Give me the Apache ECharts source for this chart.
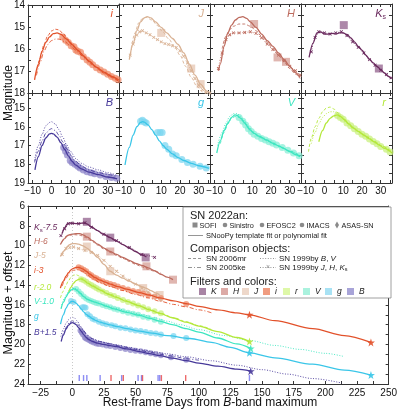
<!DOCTYPE html>
<html><head><meta charset="utf-8">
<script src="https://cdn.jsdelivr.net/npm/echarts@6/dist/echarts.min.js"></script>
<style>html,body{margin:0;padding:0;background:#fff}#c{width:400px;height:410px}</style>
</head><body><div id="c"></div>
<script>
// ---------- tick labels ----------
const topXTicks = [-10,-5,0,5,10,15,20,25,30,35];
const topXLabels = [-10,0,10,20,30];
const row1YTicks = [14,14.5,15,15.5,16,16.5,17,17.5,18];
const row1YLabels = [14,15,16,17,18];
const row2YTicks = [14.5,15,15.5,16,16.5,17,17.5,18,18.5,19];
const row2YLabels = [15,16,17,18,19];
const botXTicks = [-25,-12.5,0,12.5,25,37.5,50,62.5,75,87.5,100,112.5,125,137.5,150,162.5,175,187.5,200,212.5,225,237.5,250];
const botXLabels = [-25,0,25,50,75,100,125,150,175,200,225,250];
const botYTicks = [6,7,8,9,10,11,12,13,14,15,16,17,18,19,20,21,22,23,24];
const botYLabels = [6,8,10,12,14,16,18,20,22,24];

// ---------- top panels: early light curves (magnitudes) ----------
const iFit = [[-9,17.4],[-7,16.7],[-5,16.1],[-3,15.7],[-1,15.45],[1,15.3],[3,15.27],[5,15.33],[8,15.55],[11,15.8],[14,16.05],[17,16.3],[20,16.55],[24,16.83],[28,17.05],[32,17.25],[36,17.42]];
const iCmpA = [[-8,17.1],[-6,16.4],[-4,15.8],[-2,15.4],[0,15.18],[2,15.1],[4,15.13],[6,15.28],[9,15.58],[12,15.9],[15,16.15],[19,16.5],[23,16.8],[28,17.1],[32,17.3],[36,17.48]];
const iCmpB = [[-8,17.2],[-6,16.6],[-4,16.1],[-2,15.8],[0,15.62],[2,15.55],[4,15.55],[7,15.66],[10,15.85],[13,16.05],[17,16.35],[21,16.65],[25,16.9],[30,17.15],[36,17.5]];
const iPts = [[6,15.45],[7.5,15.6],[9,15.7],[10.5,15.85],[12,15.9],[13,16.05],[14,16.1],[15.5,16.15],[17,16.35],[19,16.5],[20.5,16.6],[22,16.72],[24,16.85],[26,16.95],[28,17.05],[30,17.15],[32,17.25],[34,17.33],[35.5,17.4]];

const jFit = [[-7,16.5],[-5,15.8],[-3,15.2],[-1,14.8],[1,14.62],[2.5,14.57],[4.5,14.62],[7,14.8],[10,15.05],[13,15.3],[16,15.55],[19,15.82],[22,16.2],[25,16.7],[28,17.2],[31,17.6],[34,17.9],[36,18.0]];
const jCmpX = [[-6.5,16.3],[-5,15.8],[-3,15.4],[-1.5,15.25],[0,15.2],[2,15.3],[4,15.38],[6,15.5],[8,15.6],[10,15.7],[12,15.78],[14,15.82],[16,15.88],[18,15.95],[20,16.1],[22,16.35],[24,16.65],[26,17.0],[28,17.35],[30,17.65],[32,17.85],[34,17.97],[36,18.0]];
const jCmpD = [[-6,16.0],[-4,15.3],[-2,14.85],[0,14.65],[2,14.6],[5,14.72],[8,14.97],[11,15.27],[14,15.57],[17,15.9],[20,16.3],[23,16.8],[26,17.3],[29,17.7],[32,17.95],[36,18.05]];
const jPts = [[10,15.3],[26,16.9],[31,17.6]];

const hFit = [[-8,17.0],[-7,16.7],[-5,15.9],[-3,15.3],[-1,14.95],[1,14.72],[3,14.6],[5,14.57],[7,14.65],[9,14.8],[12,15.05],[15,15.35],[18,15.65],[21,15.9],[24,16.2],[27,16.5],[30,16.8],[33,17.08],[35.5,17.3]];
const hCmpX = [[-8,16.9],[-6,16.2],[-4,15.6],[-2,15.38],[0,15.3],[3,15.3],[6,15.28],[9,15.25],[12,15.32],[15,15.52],[18,15.8],[21,16.05],[24,16.3],[27,16.55],[30,16.8],[33,17.0],[35.5,17.2]];
const hCmpD = [[-6,16.0],[-4,15.45],[-2,15.15],[0,15.0],[3,14.9],[6,14.9],[9,15.0],[12,15.2],[15,15.45],[18,15.72],[21,16.0],[24,16.3],[27,16.6],[30,16.9],[33,17.15],[35.5,17.35]];
const hPts = [[11,14.9],[23.5,16.4],[28,16.6]];

const kFit = [[-8.2,16.4],[-6,15.75],[-4,15.3],[-2,15.25],[0,15.35],[2,15.35],[4,15.32],[6,15.35],[8,15.3],[10,15.3],[12,15.37],[14,15.52],[16,15.7],[18,15.9],[20,16.07],[22,16.3],[24,16.48],[26,16.65],[28,16.8],[30,16.95],[32,17.1],[34,17.25],[35.5,17.35]];
const kCmpX = [[-7,16.15],[-5,15.5],[-3,15.25],[0,15.3],[3,15.35],[6,15.3],[9,15.25],[12,15.42],[15,15.7],[18,15.95],[21,16.2],[24,16.5],[27,16.75],[30,16.97],[33,17.17],[35.5,17.32]];
const kPts = [[10.3,14.95],[29,16.9]];

const bFit = [[-8.8,18.3],[-7,17.6],[-5,17.0],[-3,16.6],[-1,16.38],[0,16.35],[1,16.38],[3,16.55],[5,16.85],[7,17.2],[9,17.55],[11,17.85],[13,18.05],[16,18.25],[20,18.42],[25,18.55],[30,18.68],[35,18.78]];
const bCmpDot = [[-9,17.8],[-7,17.0],[-5,16.4],[-3,15.95],[-1,15.77],[0,15.73],[2,15.85],[4,16.15],[6,16.55],[8,16.95],[10,17.3],[13,17.7],[16,17.95],[20,18.15],[25,18.3],[30,18.45],[35,18.6]];
const bCmpDash = [[-9,17.9],[-7,17.3],[-5,16.75],[-3,16.35],[-1,16.15],[0,16.1],[2,16.2],[4,16.45],[6,16.8],[8,17.15],[10,17.5],[13,17.85],[16,18.1],[20,18.3],[25,18.45],[30,18.55],[35,18.65]];
const bPts = [[6.5,17.1],[7.5,17.3],[8.5,17.5],[10,17.8],[11,17.9],[12.5,18.0],[14,18.1],[15.2,18.2],[17,18.3],[19,18.4],[21,18.45],[23,18.5],[26,18.57],[29,18.65],[32,18.7],[34.8,18.75]];

const gFit = [[-9.3,18.04],[-7,17.1],[-5,16.45],[-3,16.0],[-1,15.77],[0,15.73],[1,15.75],[3,15.9],[5,16.15],[7,16.45],[9,16.75],[11,17.0],[13,17.2],[16,17.45],[19,17.65],[22,17.8],[26,17.95],[30,18.08],[35.5,18.22]];
const gPts = [[-1,15.7],[0,15.65],[1,15.75],[2,15.8],[8,16.3],[9.4,16.3],[10.5,16.3],[12,17.0],[14,17.2],[16,17.45],[18,17.55],[21,17.75],[24,17.9],[27,18.0],[30.7,18.1],[34,18.2]];

const vFit = [[-8.9,17.4],[-7,16.75],[-5,16.2],[-3,15.8],[-1,15.5],[0.8,15.37],[2,15.4],[4,15.55],[6,15.8],[8.8,16.17],[11,16.35],[14,16.52],[17.7,16.7],[21,16.88],[24,17.02],[26.6,17.15],[30,17.32],[33,17.48],[35.5,17.6]];
const vCmpDot = [[-8.5,17.0],[-6,16.3],[-4,15.8],[-2,15.45],[0,15.3],[2,15.3],[4,15.45],[6,15.7],[8,16.0],[10,16.25],[13,16.5],[16,16.65],[20,16.85],[25,17.05],[30,17.3],[35.5,17.55]];
const vCmpDash = [[-7,16.9],[-5,16.3],[-3,15.85],[-1,15.55],[1,15.45],[3,15.5],[5,15.7],[8,16.05],[11,16.35],[14,16.55],[18,16.75],[22,16.95],[26,17.12],[30,17.3],[35.5,17.55]];
const vPts = [[3,15.5],[5,15.7],[6.5,15.9],[8,16.1],[9.5,16.25],[11,16.4],[13,16.5],[15,16.62],[17,16.7],[19,16.8],[21,16.88],[23,16.97],[26,17.1],[29,17.25],[32,17.4],[35,17.55]];

const rFit = [[-3,16.8],[-1,16.2],[1,15.8],[3,15.55],[5,15.42],[6.8,15.37],[8.5,15.45],[10.5,15.6],[13,15.85],[15.7,16.08],[18,16.25],[21,16.45],[24,16.65],[26.4,16.8],[29,16.97],[32,17.15],[36,17.4]];
const rCmpDash = [[-8.5,17.33],[-7,16.6],[-5,16.0],[-3,15.55],[-1,15.2],[1,15.0],[3,14.95],[5,15.05],[7,15.25],[9,15.5],[12,15.8],[15,16.05],[18,16.25],[22,16.5],[26,16.75],[30,17.0],[36,17.35]];
const rCmpDot = [[-7,16.9],[-5,16.3],[-3,15.85],[-1,15.5],[1,15.3],[3,15.2],[5,15.2],[7,15.3],[9,15.5],[12,15.8],[15,16.05],[19,16.3],[23,16.55],[27,16.8],[31,17.05],[36,17.35]];
const rPts = [[7,15.4],[8.5,15.5],[10,15.6],[12,15.8],[14,15.95],[16,16.1],[18,16.25],[20,16.4],[22,16.5],[24,16.65],[26,16.78],[28,16.9],[30,17.05],[33,17.2],[35,17.35]];

// ---------- bottom panel: full light curves (magnitude + offset) ----------
const kLate = [[-8,8.8],[-6,8.2],[-4,7.8],[-2,7.7],[0,7.75],[3,7.78],[6,7.75],[9,7.72],[11.5,7.8],[15,8.1],[20,8.5],[25,8.9],[30,9.2],[35,9.55],[40,9.9],[45,10.25],[50,10.6],[55,10.95],[58.6,11.15]];
const kLateCmp = [[-9,9.0],[-6,8.3],[-3,7.8],[0,7.75],[5,7.8],[10,7.7],[15,8.15],[25,8.85],[35,9.5],[45,10.2],[55,10.9],[65,11.2]];
const kLatePts = [[11.5,7.6],[30,9.2],[58,11.2]];

const hLate = [[-9.4,9.9],[-6,9.3],[-4,9.0],[-2,8.9],[0,8.85],[3,8.8],[6,8.8],[9,8.95],[12,9.15],[16,9.5],[20,9.85],[25,10.25],[30,10.6],[35,10.9],[40,11.2],[45,11.5],[50,11.8],[55,12.0],[60,12.25],[65,12.55],[70,12.9],[75,13.2],[79.6,13.45]];
const hLateCmp = [[-8,9.6],[-5,9.1],[-2,8.95],[2,8.9],[6,8.95],[10,9.15],[15,9.5],[20,9.95],[25,10.35],[30,10.7],[35,11.0],[40,11.3],[45,11.6],[50,11.9],[55,12.15],[60,12.4],[65,12.6],[70,12.8]];
const hLatePts = [[11.5,9.1],[30,10.6],[58.6,12.1],[79.6,13.45]];

const jLate = [[-9.4,11.1],[-6,10.5],[-4,10.1],[-2,9.9],[0,9.8],[2.4,9.8],[5,9.85],[8,10.0],[11.5,10.25],[15,10.6],[20,11.2],[25,11.9],[30,12.6],[35,13.0],[40,13.3],[45,13.6],[50,13.9],[55,14.15],[58,14.3],[62,14.55],[66,14.8],[69,15.0]];
const jLateCmp = [[-8,10.9],[-5,10.3],[-2,10.2],[1,10.15],[5,10.3],[10,10.5],[15,10.7],[20,11.0],[25,11.5],[30,12.1],[35,12.6],[40,13.1],[45,13.5],[50,13.9],[55,14.3],[60,14.7],[65,15.1],[70,15.5]];
const jLatePts = [[11.5,10.1],[30,12.6],[56,14.3],[69,15.0]];

const iLate = [[-9.4,14.3],[-7,13.6],[-5,13.1],[-3,12.75],[-1,12.45],[1,12.3],[3,12.22],[5,12.2],[8,12.35],[11,12.6],[14,12.9],[18,13.25],[22,13.5],[26,13.7],[30,13.9],[36,14.15],[43,14.4],[53,14.75],[61,15.0],[69,15.3],[80,15.6],[91,15.9],[100,16.15],[115,16.5],[130,16.8],[140,17.0],[160,17.6],[190,18.4],[215,19.1],[236,19.8]];
const iLateCmp = [[-8,14.1],[-5,13.3],[-2,12.75],[1,12.5],[4,12.45],[8,12.6],[12,12.95],[16,13.35],[22,13.75],[30,14.15],[40,14.55],[50,14.95],[60,15.3],[70,15.65],[80,15.95],[90,16.2],[100,16.5],[110,16.8]];
const iLatePts = [[5,12.2],[7,12.3],[9,12.45],[11,12.6],[13,12.85],[15,13.0],[17,13.2],[19,13.3],[21,13.45],[24,13.6],[27,13.75],[30,13.9],[33,14.0],[36,14.15],[40,14.3],[44,14.45],[48,14.6],[52,14.7],[56,14.85],[60,15.0],[65,15.15],[70,15.3],[90,15.9]];
const iLateStars = [[140,17.0],[236,19.8]];

const rLate = [[-3,14.8],[-1,14.2],[1,13.8],[3,13.55],[5,13.42],[6.8,13.37],[9,13.5],[12,13.8],[16,14.1],[22,14.5],[28,14.9],[35,15.25],[43,15.65],[53,16.1],[61,16.5],[69,16.85],[79,17.3],[90,17.75],[100,18.15],[115,18.7],[130,19.3],[140,19.7]];
const rLateCmp = [[-9.4,15.3],[-7,14.6],[-5,14.0],[-3,13.55],[-1,13.2],[1,13.0],[3,12.95],[5,13.05],[8,13.35],[12,13.75],[16,14.05],[22,14.45],[30,14.95],[40,15.45],[50,15.95],[60,16.4],[70,16.85],[80,17.3],[90,17.7],[100,18.1],[110,18.5]];
const rLatePts = [[7,13.4],[9,13.5],[11,13.65],[13,13.85],[15,14.0],[17,14.15],[19,14.3],[21,14.45],[24,14.65],[27,14.8],[30,15.0],[33,15.1],[36,15.3],[40,15.5],[44,15.7],[48,15.85],[52,16.05],[56,16.25],[60,16.45],[65,16.65],[70,16.85]];
const rLateStars = [[140,19.7]];

const vLate = [[-8.9,16.4],[-7,15.75],[-5,15.2],[-3,14.8],[-1,14.5],[0.8,14.37],[2,14.4],[4,14.55],[6,14.8],[9,15.17],[12,15.45],[15,15.6],[18,15.72],[22,15.9],[27,16.15],[33,16.4],[43,16.75],[53,17.05],[61,17.35],[69,17.65],[79,18.0],[90,18.4],[100,18.75],[115,19.35],[130,19.95],[141,20.4]];
const vLateCmp = [[-8.5,16.0],[-6,15.3],[-4,14.8],[-2,14.45],[0,14.3],[2,14.3],[4,14.45],[6,14.7],[9,15.1],[13,15.5],[18,15.75],[25,16.0],[35,16.35],[45,16.7],[55,17.0],[65,17.3],[75,17.65],[85,18.0],[100,18.5],[120,19.1],[140,19.6],[160,20.1],[180,20.5],[200,20.9],[214,21.2]];
const vLatePts = [[3,14.4],[5,14.65],[7,14.9],[9,15.15],[11,15.35],[13,15.5],[15,15.6],[17,15.7],[19,15.8],[21,15.87],[24,16.0],[27,16.15],[30,16.25],[33,16.4],[36,16.5],[40,16.65],[44,16.8],[48,16.9],[52,17.0],[56,17.2],[60,17.3],[65,17.5],[70,17.7]];
const vLateStars = [[141,20.4]];

const gLate = [[-9.3,17.95],[-7,17.0],[-5,16.35],[-3,15.9],[-1,15.68],[0,15.65],[1,15.67],[3,15.82],[5,16.08],[7,16.4],[9,16.7],[11,16.95],[13,17.15],[16,17.4],[19,17.6],[22,17.75],[26,17.9],[30,18.03],[36,18.2],[43,18.4],[53,18.65],[63,18.85],[75,19.1],[93,19.4],[110,19.8],[125,20.3],[140,20.85],[160,21.35],[190,22.0],[215,22.6],[236,23.1]];
const gLatePts = [[-1,15.6],[1,15.7],[8,16.25],[9.4,16.25],[10.5,16.3],[12,16.95],[14,17.15],[16,17.4],[18,17.5],[21,17.7],[24,17.85],[27,17.95],[31,18.05],[34,18.15],[38,18.3],[42,18.35],[46,18.5],[50,18.6],[54,18.65],[58,18.75],[62,18.85],[66,18.9],[70,19.0],[80,19.15],[90,19.35]];
const gLateStars = [[140,20.85],[236,23.1]];

const bLate = [[-8.8,19.7],[-7,19.05],[-5,18.45],[-3,18.05],[-1,17.83],[0,17.8],[1,17.83],[3,18.0],[5,18.3],[7,18.65],[9,19.0],[11,19.3],[13,19.5],[16,19.7],[20,19.87],[25,20.0],[30,20.12],[35,20.22],[43,20.45],[53,20.72],[61,20.93],[69,21.13],[79,21.38],[90,21.63],[100,21.88],[115,22.2],[130,22.5],[141,22.7]];
const bLateDot = [[-9,19.2],[-7,18.4],[-5,17.9],[-3,17.5],[-1,17.3],[0,17.25],[2,17.35],[4,17.65],[6,18.05],[8,18.45],[10,18.8],[13,19.2],[16,19.45],[20,19.65],[25,19.8],[35,20.05],[45,20.3],[55,20.55],[65,20.75],[75,20.95],[90,21.25],[110,21.65],[130,22.1],[150,22.55],[170,23.0],[190,23.45],[213,23.9]];
const bLateDash = [[-8,19.3],[-5,18.3],[-2,17.75],[0,17.6],[2,17.7],[5,18.05],[8,18.5],[12,19.05],[16,19.4],[22,19.7],[30,19.95],[40,20.25],[50,20.5],[60,20.75],[70,21.0],[80,21.2],[90,21.45],[100,21.6]];
const bLatePts = [[6.5,18.6],[7.5,18.8],[8.5,19.0],[10,19.3],[11,19.4],[12.5,19.5],[14,19.6],[15.2,19.7],[17,19.8],[19,19.9],[21,19.95],[24,20.0],[27,20.1],[30,20.15],[34,20.25],[38,20.35],[42,20.45],[46,20.55],[50,20.65],[54,20.7],[58,20.8],[62,20.9],[66,21.0],[70,21.1],[78,21.3],[90,21.55]];
const bLateStars = [[141,22.7]];

// spectral epochs
const specBlue = [5.5,8.9,11.5,22,39,52,54.7,67.8,69.1,140];
const specRed = [30.6,40.3,55.5,70.4,89.6];

// ---------- styling ----------
const COL = {K:'#6a2a5e',H:'#bd6b5e',J:'#d9b294',i:'#e2512a',r:'#b4e83a',V:'#3ce6c0',g:'#3ac6e8',B:'#47399a'};
const PCOL = {K:'#8e5a88',H:'#d49a92',J:'#e4c4ae',i:'#ee8664',r:'#c8f07a',V:'#84eed6',g:'#7ad6f0',B:'#8a82c8'};
const SQ = {K:'#a884a4',H:'#dcaaa6',J:'#eed8ca',i:'#f09c80',r:'#def8a8',V:'#aaf2de',g:'#a8e2f4',B:'#a8a4d8'};
const FONT = 'Liberation Sans, Arial, sans-serif';
const DASH = [3,2], DASHDOT = [4,2,1,2], DOT = [1,1.6];
const XSYM = 'path://M4,0h2v10h-2z M0,4h10v2h-10z';
const STAR = 'path://M5,0L6.2,3.6L10,3.6L7,5.9L8.1,9.6L5,7.3L1.9,9.6L3,5.9L0,3.6L3.8,3.6Z';
const minus = v => String(v).replace('-', '\u2212');

const grids = [], xAxes = [], yAxes = [], series = [];
const lefts = [28,119,210,301];
function addGrid(g, x, y) {
  const gi = grids.length;
  grids.push({left:g.left, top:g.top, width:g.width, height:g.height, containLabel:false});
  const lineStyle = {color:'#333', width:1};
  const base = (o) => Object.assign({gridIndex:gi, type:'value', splitLine:{show:false}}, o);
  xAxes.push(base({min:x.min, max:x.max, position:'bottom',
    axisLine:{show:true, onZero:false, lineStyle},
    axisTick:{show:true, inside:true, length:3, customValues:x.ticks, lineStyle},
    axisLabel:{show:x.show, customValues:x.labels, formatter:minus, fontSize:10, margin:x.margin||3, color:'#111', fontFamily:FONT}}));
  xAxes.push(base({min:x.min, max:x.max, position:'top',
    axisLine:{show:true, onZero:false, lineStyle},
    axisTick:{show:true, inside:true, length:3, customValues:x.ticks, lineStyle},
    axisLabel:{show:false}}));
  yAxes.push(base({min:y.min, max:y.max, inverse:true, position:'left',
    axisLine:{show:true, onZero:false, lineStyle},
    axisTick:{show:true, inside:true, length:3, customValues:y.ticks, lineStyle},
    axisLabel:{show:y.show, customValues:y.labels, fontSize:10, margin:3, color:'#111', fontFamily:FONT}}));
  yAxes.push(base({min:y.min, max:y.max, inverse:true, position:'right',
    axisLine:{show:true, onZero:false, lineStyle},
    axisTick:{show:true, inside:true, length:3, customValues:y.ticks, lineStyle},
    axisLabel:{show:false}}));
  return gi;
}
function L(gi, data, color, type, width, z) {
  return {type:'line', xAxisIndex:gi*2, yAxisIndex:gi*2, data, showSymbol:false, smooth:0.3, smoothMonotone:'x',
    lineStyle:{color, width:width||1, type:type||'solid'}, z:z||3, silent:true, animation:false};
}
function LX(gi, data, color) {
  return {type:'line', xAxisIndex:gi*2, yAxisIndex:gi*2, data, showSymbol:true, symbol:XSYM, symbolSize:4, symbolRotate:45,
    smooth:0.3, smoothMonotone:'x', itemStyle:{color}, lineStyle:{color, width:0.9, type:DOT}, z:3, silent:true, animation:false};
}
function P(gi, data, color, symbol, size) {
  return {type:'scatter', xAxisIndex:gi*2, yAxisIndex:gi*2, data, symbol, symbolSize:size,
    itemStyle:{color, opacity:0.72}, z:2, silent:true, animation:false};
}

// ---------- top small panels ----------
const panels = [
  {b:'i', r:0, c:0, fit:iFit, cmp:[[iCmpA,DASH],[iCmpB,DASHDOT]], pts:iPts, sym:'circle'},
  {b:'J', r:0, c:1, fit:jFit, cmp:[[jCmpD,DASH]], x:jCmpX, pts:jPts, sym:'rect'},
  {b:'H', r:0, c:2, fit:hFit, cmp:[[hCmpD,DASH]], x:hCmpX, pts:hPts, sym:'rect'},
  {b:'K', r:0, c:3, fit:kFit, cmp:[], x:kCmpX, pts:kPts, sym:'rect'},
  {b:'B', r:1, c:0, fit:bFit, cmp:[[bCmpDot,DOT],[bCmpDash,DASHDOT]], pts:bPts, sym:'circle'},
  {b:'g', r:1, c:1, fit:gFit, cmp:[], pts:gPts, sym:'circle'},
  {b:'V', r:1, c:2, fit:vFit, cmp:[[vCmpDot,DOT],[vCmpDash,DASH]], pts:vPts, sym:'circle'},
  {b:'r', r:1, c:3, fit:rFit, cmp:[[rCmpDash,DASH],[rCmpDot,DOT]], pts:rPts, sym:'circle'}
];
const graphics = [];
panels.forEach(p => {
  const top = p.r === 0 ? 4 : 93, height = p.r === 0 ? 89 : 90;
  const gi = addGrid({left:lefts[p.c], top, width:91, height},
    {min:-12.5, max:36, ticks:topXTicks, labels:topXLabels, show:p.r === 1, margin:3},
    p.r === 0 ? {min:14, max:18, ticks:row1YTicks, labels:row1YLabels, show:p.c === 0}
              : {min:14.2, max:19, ticks:row2YTicks, labels:row2YLabels, show:p.c === 0});
  series.push(P(gi, p.pts, PCOL[p.b], p.sym, p.sym === 'rect' ? 8 : 7));
  p.cmp.forEach(c => series.push(L(gi, c[0], COL[p.b], c[1], 0.9)));
  if (p.x) series.push(LX(gi, p.x, COL[p.b]));
  series.push(L(gi, p.fit, COL[p.b], 'solid', 1.3, 4));
  const lx = lefts[p.c] + 91 - 6, ly = top + 10;
  graphics.push({type:'text', x:lx, y:ly, style:{text: p.b === 'K' ? '{a|K}{s|s}' : '{a|' + p.b + '}',
    align:'right', verticalAlign:'middle',
    rich:{a:{fontSize:11, fontStyle:'italic', fontFamily:FONT, fill:COL[p.b]}, s:{fontSize:7, fontFamily:FONT, fill:COL[p.b], padding:[6,0,0,0]}}}});
});

// ---------- bottom big panel ----------
const gb = addGrid({left:28, top:206, width:364, height:178},
  {min:-35, max:250, ticks:botXTicks, labels:botXLabels, show:true, margin:4},
  {min:6, max:24, ticks:botYTicks, labels:botYLabels, show:true});
const late = [
  {b:'K', fit:kLate, x:kLateCmp, pts:kLatePts, sym:'rect'},
  {b:'H', fit:hLate, cmp:[[hLateCmp,DASH]], pts:hLatePts, sym:'rect'},
  {b:'J', fit:jLate, x:jLateCmp, pts:jLatePts, sym:'rect'},
  {b:'i', fit:iLate, cmp:[[iLateCmp,DASHDOT]], pts:iLatePts, stars:iLateStars, sym:'circle'},
  {b:'r', fit:rLate, cmp:[[rLateCmp,DASH]], pts:rLatePts, stars:rLateStars, sym:'circle'},
  {b:'V', fit:vLate, cmp:[[vLateCmp,DOT]], pts:vLatePts, stars:vLateStars, sym:'circle'},
  {b:'g', fit:gLate, cmp:[], pts:gLatePts, stars:gLateStars, sym:'circle'},
  {b:'B', fit:bLate, cmp:[[bLateDot,DOT],[bLateDash,DASHDOT]], pts:bLatePts, stars:bLateStars, sym:'circle'}
];
late.forEach(p => {
  series.push(P(gb, p.pts, PCOL[p.b], p.sym, p.sym === 'rect' ? 8 : 6));
  (p.cmp || []).forEach(c => series.push(L(gb, c[0], COL[p.b], c[1], 0.9)));
  if (p.x) series.push(LX(gb, p.x, COL[p.b]));
  series.push(L(gb, p.fit, COL[p.b], 'solid', 1.3, 4));
  if (p.stars) series.push(Object.assign(P(gb, p.stars, COL[p.b], STAR, 8), {z:5, itemStyle:{color:COL[p.b], opacity:0.9}}));
});
// day-0 reference and spectral epoch ticks
series.push({type:'scatter', xAxisIndex:gb*2, yAxisIndex:gb*2, data:specBlue.map(d => [d, 23.4]), symbol:'rect', symbolSize:[1.4,6],
  itemStyle:{color:'#6f6ff0'}, z:3, silent:true, animation:false,
  markLine:{silent:true, symbol:'none', label:{show:false}, lineStyle:{type:[1,2], color:'#bbb', width:0.8}, data:[{xAxis:0}]}});
series.push({type:'scatter', xAxisIndex:gb*2, yAxisIndex:gb*2, data:specRed.map(d => [d, 23.4]), symbol:'rect', symbolSize:[1.4,6],
  itemStyle:{color:'#e84444'}, z:4, silent:true, animation:false});

// offset labels
const offLabels = [['K','{a|K}{s|s}{a|-7.5}',228],['H','{a|H-6}',242],['J','{a|J-5}',255.5],['i','{a|i-3}',271],['r','{a|r-2.0}',287.5],['V','{a|V-1.0}',301.5],['g','{a|g}',317],['B','{a|B+1.5}',332.5]];
offLabels.forEach(o => graphics.push({type:'text', x:34, y:o[2], style:{text:o[1], verticalAlign:'middle',
  rich:{a:{fontSize:8.5, fontStyle:'italic', fontFamily:FONT, fill:COL[o[0]]}, s:{fontSize:6, fontFamily:FONT, fill:COL[o[0]], padding:[5,0,0,0]}}}}));

// axis titles
graphics.push({type:'text', x:9, y:93, rotation:Math.PI/2, style:{text:'Magnitude', fontSize:12, fontFamily:FONT, fill:'#111', align:'center', verticalAlign:'middle'}});
graphics.push({type:'text', x:9, y:303, rotation:Math.PI/2, style:{text:'Magnitude + offset', fontSize:12.5, fontFamily:FONT, fill:'#111', align:'center', verticalAlign:'middle'}});
graphics.push({type:'text', x:210, y:403, style:{text:'{n|Rest-frame Days from }{it|B}{n|-band maximum}', align:'center', verticalAlign:'middle',
  rich:{n:{fontSize:12, fontFamily:FONT, fill:'#111'}, it:{fontSize:12, fontStyle:'italic', fontFamily:FONT, fill:'#111'}}}});

// legend box
const LG = '#8a8a8a';
graphics.push({type:'rect', shape:{x:183, y:207, width:208, height:91}, style:{fill:'#fff', stroke:'#888', lineWidth:0.8}, z:10});
const T = (x, y, text, size, extra) => graphics.push(Object.assign({type:'text', x, y, z:11,
  style:Object.assign({text, fontSize:size, fontFamily:FONT, fill:'#222', verticalAlign:'middle'}, extra || {})}));
T(190, 215.5, 'SN 2022an:', 11);
const instX = [195,225,262,302,337], instN = ['SOFI','Sinistro','EFOSC2','IMACS','ASAS-SN'], instS = ['rect','circle','circle','circle','diamond'];
instN.forEach((n, k) => {
  const sx = instX[k];
  if (instS[k] === 'rect') graphics.push({type:'rect', z:11, shape:{x:sx-2.5, y:222.5, width:5, height:5}, style:{fill:LG}});
  else if (instS[k] === 'circle') graphics.push({type:'circle', z:11, shape:{cx:sx, cy:225, r:2.3}, style:{fill:LG}});
  else graphics.push({type:'polygon', z:11, shape:{points:[[sx,221.5],[sx+2,225],[sx,228.5],[sx-2,225]]}, style:{fill:LG}});
  T(sx + 4.5, 225.5, n, 7.3);
});
const seg = (x1, x2, y, dash) => graphics.push({type:'line', z:11, shape:{x1, y1:y, x2, y2:y}, style:{stroke:LG, lineWidth:0.9, lineDash:dash || null}});
seg(188, 203, 235.5); T(206, 235.5, 'SNooPy template fit or polynomial fit', 7.5);
T(190, 248.5, 'Comparison objects:', 11);
seg(188, 203, 258.5, DASH); T(206, 258.5, 'SN 2006mr', 8);
seg(188, 203, 267.5, DASHDOT); T(206, 267.5, 'SN 2005ke', 8);
seg(260, 276, 258.5, DOT);
T(279, 258.5, '{n|SN 1999by }{it|B}{n|, }{it|V}', 8, {rich:{n:{fontSize:8, fontFamily:FONT, fill:'#222'}, it:{fontSize:8, fontStyle:'italic', fontFamily:FONT, fill:'#222'}}});
seg(260, 276, 267.5, DOT);
graphics.push({type:'text', x:268, y:267.5, z:11, style:{text:'\u00d7', fontSize:7, fill:LG, align:'center', verticalAlign:'middle'}});
T(279, 267.5, '{n|SN 1999by }{it|J}{n|, }{it|H}{n|, }{it|K}{s|s}', 8, {rich:{n:{fontSize:8, fontFamily:FONT, fill:'#222'}, it:{fontSize:8, fontStyle:'italic', fontFamily:FONT, fill:'#222'}, s:{fontSize:5.5, fontFamily:FONT, fill:'#222', padding:[4,0,0,0]}}});
T(190, 281.5, 'Filters and colors:', 11);
const fb = ['K','H','J','i','r','V','g','B'], fx = [199,221,242,263,283,303,325,347];
fb.forEach((b, k) => {
  graphics.push({type:'rect', z:11, shape:{x:fx[k], y:288, width:7, height:7}, style:{fill:SQ[b]}});
  T(fx[k] + 12, 291.5, b, 8.5, {fontStyle:'italic'});
});

const chart = echarts.init(document.getElementById('c'), null, {renderer:'canvas'});
chart.setOption({animation:false, backgroundColor:'#fff', grid:grids, xAxis:xAxes, yAxis:yAxes, series, graphic:graphics});
</script></body></html>
